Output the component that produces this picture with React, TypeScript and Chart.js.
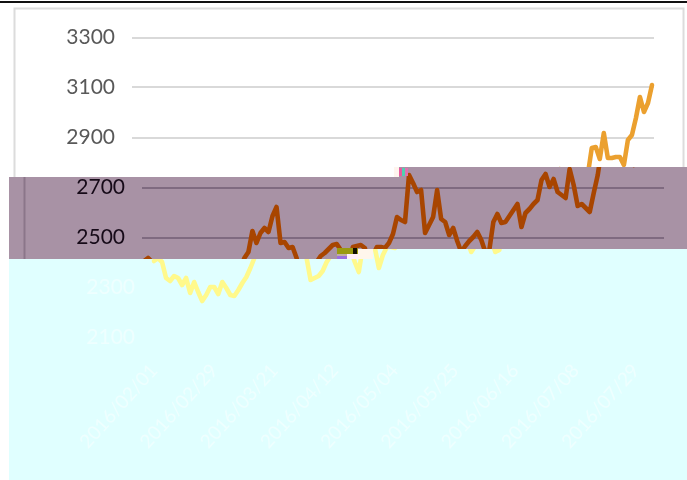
import React, { useEffect, useRef } from "react";
import { Chart, registerables } from "chart.js";

Chart.register(...registerables);

const indexValues: number[] = [
  2406, 2418, 2402, 2338, 2326, 2346, 2338, 2310, 2338, 2278,
  2322, 2282, 2246, 2270, 2302, 2302, 2274, 2322, 2298, 2270,
  2266, 2290, 2318, 2342, 2378, 2418, 2442, 2526, 2478, 2518,
  2538, 2522, 2586, 2622, 2478, 2482, 2458, 2462, 2418, 2330,
  2338, 2346, 2366, 2402, 2426, 2438, 2454, 2470, 2474, 2450,
  2402, 2362, 2462, 2466, 2470, 2458, 2378, 2430, 2462, 2462,
  2458, 2478, 2514, 2582, 2570, 2562, 2750, 2718, 2682, 2690,
  2518, 2550, 2582, 2690, 2574, 2562, 2510, 2538, 2486, 2442,
  2466, 2486, 2502, 2522, 2490, 2442, 2450, 2562, 2594, 2558,
  2562, 2586, 2610, 2634, 2542, 2598, 2614, 2634, 2650, 2730,
  2754, 2702, 2734, 2682, 2670, 2658, 2774, 2710, 2626, 2634,
  2618, 2602, 2678, 2750, 2858, 2862, 2814, 2918, 2818, 2818,
  2822, 2822, 2790, 2890, 2910, 2978, 3062, 3002, 3038, 3110,
];

const dateTicks: string[] = [
  "2016/02/01", "2016/02/29", "2016/03/21", "2016/04/12", "2016/05/04",
  "2016/05/25", "2016/06/16", "2016/07/08", "2016/07/29",
];

const TICK_EVERY = 15;
const FONT = "Lato";

type Layer = {
  shift: number;
  clip: string;
  background: string;
  line: string;
  grid: string;
  text: string;
  frame: string;
};

const layers: Layer[] = [
  {
    shift: 0,
    clip: "polygon(0 0, 687px 0, 687px 167px, 399px 167px, 399px 177px, 0 177px)",
    background: "#ffffff",
    line: "#eba02f",
    grid: "#d9d9d9",
    text: "#595959",
    frame: "#dcdcdc",
  },
  {
    shift: 10,
    clip: "polygon(9px 177px, 399px 177px, 399px 167px, 687px 167px, 687px 249px, 358px 249px, 358px 259px, 9px 259px)",
    background: "#a892a5",
    line: "#a84500",
    grid: "#7f6a80",
    text: "#160a18",
    frame: "#8b768a",
  },
  {
    shift: 20,
    clip: "polygon(9px 259px, 358px 259px, 358px 249px, 687px 249px, 687px 480px, 9px 480px)",
    background: "#e0ffff",
    line: "#fff98c",
    grid: "#e0ffff",
    text: "#eeffff",
    frame: "#e0ffff",
  },
];

const glitches: { x: number; y: number; w: number; h: number; c: string }[] = [
  { x: 337, y: 248, w: 21, h: 6, c: "#9a9a10" },
  { x: 353, y: 248, w: 4, h: 6, c: "#101000" },
  { x: 337, y: 254, w: 11, h: 2, c: "#c0b0a0" },
  { x: 337, y: 256, w: 10, h: 3, c: "#9b6fe0" },
  { x: 347, y: 254, w: 11, h: 5, c: "#fff0fa" },
  { x: 358, y: 249, w: 15, h: 10, c: "#fff6ec" },
  { x: 394, y: 167, w: 5, h: 10, c: "#fff4ee" },
  { x: 399, y: 168, w: 3, h: 8, c: "#e85aa0" },
  { x: 402, y: 168, w: 3, h: 8, c: "#50d0b0" },
  { x: 405, y: 168, w: 3, h: 8, c: "#e070b0" },
];

function ChartLayer({ layer }: { layer: Layer }) {
  const ref = useRef<HTMLCanvasElement | null>(null);
  useEffect(() => {
    const canvas = ref.current;
    if (!canvas) return;
    const labels = indexValues.map((_, i) =>
      i % TICK_EVERY === 0 ? dateTicks[i / TICK_EVERY] ?? "" : ""
    );
    const chart = new Chart(canvas, {
      type: "line",
      data: {
        labels,
        datasets: [
          {
            data: indexValues,
            borderColor: layer.line,
            borderWidth: 4.6,
            pointRadius: 0,
            tension: 0,
            borderJoinStyle: "round",
            borderCapStyle: "round",
          },
        ],
      },
      options: {
        animation: false,
        responsive: false,
        devicePixelRatio: 1,
        layout: { padding: { top: 37.5, right: 33, left: 0, bottom: 0 } },
        plugins: { legend: { display: false }, tooltip: { enabled: false } },
        scales: {
          x: {
            offset: true,
            grid: { display: false },
            border: { display: false },
            afterFit: (s: any) => {
              s.height = 142.5;
            },
            ticks: {
              autoSkip: false,
              minRotation: 48,
              maxRotation: 48,
              padding: 14,
              color: layer.text,
              font: { family: FONT, size: 19 },
            },
          },
          y: {
            min: 2100,
            max: 3300,
            afterFit: (s: any) => {
              s.width = 132;
            },
            grid: { color: layer.grid, lineWidth: 2, drawTicks: false },
            border: { display: false },
            ticks: {
              stepSize: 200,
              padding: 17,
              color: layer.text,
              font: { family: FONT, size: 21 },
              callback: (v: number | string) => String(v),
            },
          },
        },
      },
      plugins: [
        {
          id: "frame",
          beforeDraw(c: Chart) {
            const g = c.ctx;
            g.save();
            g.strokeStyle = layer.frame;
            g.lineWidth = 2;
            g.strokeRect(14.5, 8.5, 669, 470);
            g.restore();
          },
        },
      ],
    } as any);
    return () => chart.destroy();
  }, [layer]);
  return (
    <div
      style={{
        position: "absolute",
        left: 0,
        top: 0,
        width: 687,
        height: 480,
        clipPath: layer.clip,
        background: layer.background,
      }}
    >
      <canvas
        ref={ref}
        width={687}
        height={480}
        style={{ position: "absolute", left: layer.shift, top: 0, width: 687, height: 480 }}
      />
    </div>
  );
}

export default function App() {
  return (
    <div
      style={{
        position: "fixed",
        left: 0,
        top: 0,
        width: 687,
        height: 480,
        overflow: "hidden",
        background: "#ffffff",
      }}
    >
      {layers.map((l, i) => (
        <ChartLayer key={i} layer={l} />
      ))}
      {glitches.map((g, i) => (
        <div
          key={i}
          style={{
            position: "absolute",
            left: g.x,
            top: g.y,
            width: g.w,
            height: g.h,
            background: g.c,
          }}
        />
      ))}
      <div
        style={{
          position: "absolute",
          left: 0,
          top: 1,
          width: 687,
          height: 2,
          background: "#111111",
        }}
      />
    </div>
  );
}
